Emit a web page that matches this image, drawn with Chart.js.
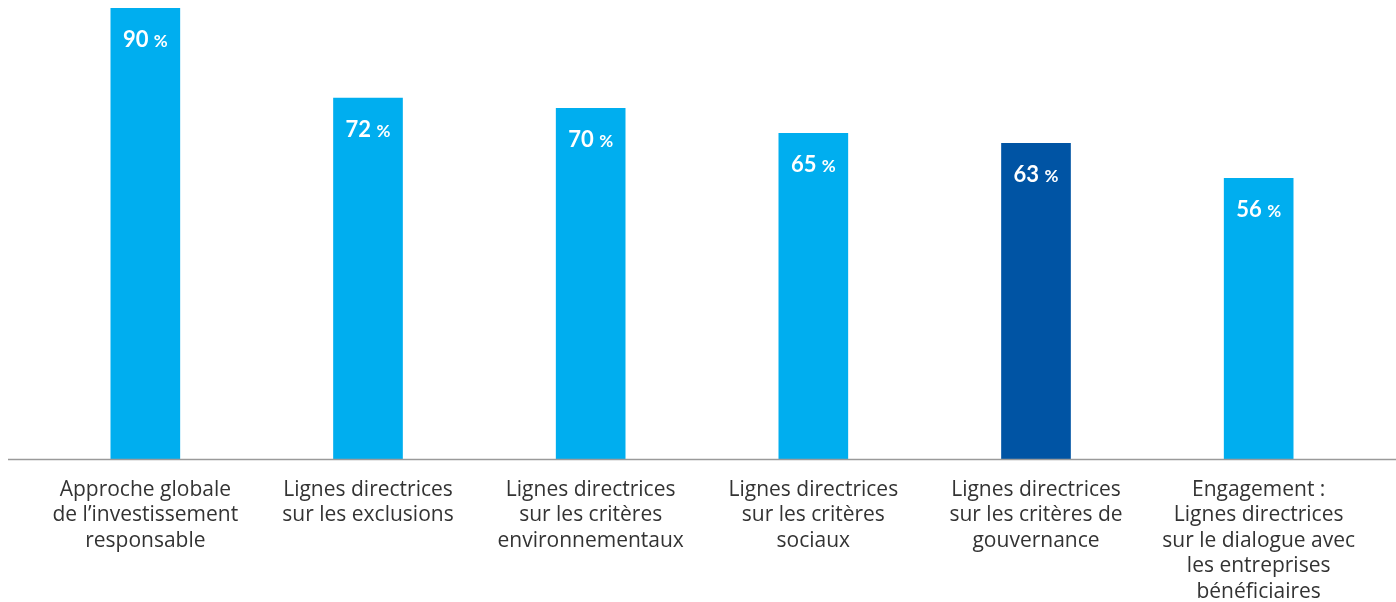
<!DOCTYPE html>
<html>
<head>
<meta charset="utf-8">
<script src="https://cdn.jsdelivr.net/npm/chart.js@4/dist/chart.umd.min.js"></script>
<style>
  html, body { margin: 0; padding: 0; background: #fff; }
  #wrap { width: 1396px; height: 602px; }
</style>
</head>
<body>
<div id="wrap"><canvas id="myChart" width="1396" height="602"></canvas></div>
<script>
const categories = [
  ["Approche globale", "de l\u2019investissement", "responsable"],
  ["Lignes directrices", "sur les exclusions"],
  ["Lignes directrices", "sur les crit\u00e8res", "environnementaux"],
  ["Lignes directrices", "sur les crit\u00e8res", "sociaux"],
  ["Lignes directrices", "sur les crit\u00e8res de", "gouvernance"],
  ["Engagement :", "Lignes directrices", "sur le dialogue avec", "les entreprises", "b\u00e9n\u00e9ficiaires"]
];
const values = [90, 72, 70, 65, 63, 56];
const highlightIndex = 4;

const lightBlue = "#00aeef";
const darkBlue = "#0054a4";
const barColors = values.map((v, i) => (i === highlightIndex ? darkBlue : lightBlue));

// white value labels inside the bars, "%" a bit smaller
const valueLabels = {
  id: "valueLabels",
  afterDatasetsDraw(chart) {
    const c = chart.ctx;
    const meta = chart.getDatasetMeta(0);
    const numFont = "bold 22px Lato, 'Open Sans', sans-serif";
    const pctFont = "bold 17px Lato, 'Open Sans', sans-serif";
    c.save();
    c.fillStyle = "#ffffff";
    c.textBaseline = "alphabetic";
    c.textAlign = "left";
    meta.data.forEach((bar, i) => {
      const num = String(values[i]) + " ";
      c.font = numFont;
      const w1 = c.measureText(num).width;
      c.font = pctFont;
      const w2 = c.measureText("%").width;
      const x0 = bar.x - (w1 + w2) / 2;
      const y = bar.y + 39;
      c.font = numFont;
      c.fillText(num, x0, y);
      c.font = pctFont;
      c.fillText("%", x0 + w1, y);
    });
    c.restore();
  }
};

// baseline runs across the whole width
const baseLine = {
  id: "baseLine",
  afterDatasetsDraw(chart) {
    const c = chart.ctx;
    const y = chart.scales.y.getPixelForValue(0);
    c.save();
    c.strokeStyle = "#9a9a9a";
    c.lineWidth = 1.5;
    c.beginPath();
    c.moveTo(8, y + 0.5);
    c.lineTo(chart.width, y + 0.5);
    c.stroke();
    c.restore();
  }
};

new Chart(document.getElementById("myChart"), {
  type: "bar",
  data: {
    labels: categories,
    datasets: [{
      data: values,
      backgroundColor: barColors,
      borderWidth: 0,
      barThickness: 69
    }]
  },
  options: {
    responsive: false,
    animation: false,
    layout: { padding: { left: 34, right: 26, top: 8, bottom: 0 } },
    plugins: {
      legend: { display: false },
      tooltip: { enabled: false }
    },
    scales: {
      x: {
        grid: { display: false, drawTicks: false },
        border: { display: false },
        ticks: {
          color: "#333333",
          padding: 18,
          maxRotation: 0,
          autoSkip: false,
          font: { family: "'Open Sans', Lato, sans-serif", size: 21, lineHeight: 1.215 }
        },
        afterFit(scale) { scale.height = 143; }
      },
      y: {
        display: false,
        min: 0,
        max: 90
      }
    }
  },
  plugins: [baseLine, valueLabels]
});
</script>
</body>
</html>
